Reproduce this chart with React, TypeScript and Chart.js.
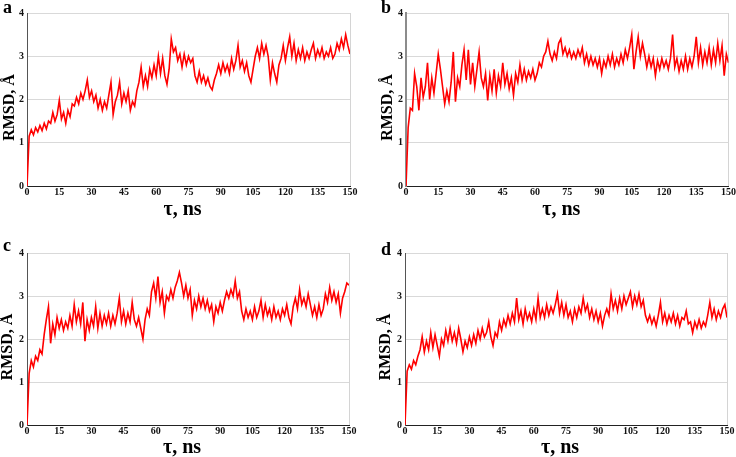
import React, { useEffect, useRef } from "react";
import { Chart, registerables } from "chart.js";

Chart.register(...registerables);

// ---- data (RMSD, Å) sampled every 1 ns, 0..150 ns ----
const TIME_STEP_NS = 1;
const X_MIN = 0;
const X_MAX = 150;
const X_STEP = 15;
const Y_MIN = 0;
const Y_MAX = 4;
const Y_STEP = 1;
const X_TITLE = "τ, ns";
const Y_TITLE = "RMSD, Å";
const PANEL_LETTERS = ["a", "b", "c", "d"];

const RMSD_A = [
  0, 1.15, 1.3, 1.18, 1.35, 1.25, 1.4, 1.28, 1.45, 1.32,
  1.5, 1.45, 1.7, 1.5, 1.65, 1.98, 1.55, 1.7, 1.45, 1.75,
  1.6, 1.9, 1.85, 2.05, 1.9, 2.15, 2.0, 2.2, 2.45, 2.05,
  2.2, 1.95, 2.1, 1.8, 2.0, 1.75, 1.95, 1.8, 2.1, 2.4,
  1.65, 1.95, 2.1, 2.4, 1.9, 2.15, 1.95, 2.2, 1.75, 1.95,
  1.85, 2.2, 2.4, 2.75, 2.3, 2.55, 2.3, 2.7, 2.5, 2.8,
  2.55, 3.0, 2.6, 2.95, 2.55, 2.35, 2.7, 3.4, 3.1, 3.2,
  2.9, 3.05, 2.75, 3.05, 2.8, 3.0, 2.85, 2.95, 2.55, 2.4,
  2.65, 2.4, 2.55, 2.35, 2.5, 2.3, 2.22, 2.45, 2.6, 2.8,
  2.6, 2.85, 2.65, 2.8, 2.6, 2.95, 2.7, 2.9, 3.25, 2.75,
  2.9, 2.65, 2.85, 2.55, 2.4, 2.7, 3.0, 3.2, 2.95, 3.3,
  3.05, 3.25, 3.0, 2.45, 2.85, 2.6, 2.4, 2.8, 2.95, 3.25,
  2.9, 3.2, 3.45, 3.0, 3.3, 2.9, 3.15, 2.95, 3.2, 2.9,
  3.1, 2.95, 3.15, 3.3, 2.95, 3.15, 3.0, 3.2, 2.95, 3.1,
  3.0, 3.2, 2.95, 3.05, 3.3, 3.15, 3.4, 3.2, 3.5, 3.25,
  3.05,
];

const RMSD_B = [
  0, 1.35, 1.8, 1.75, 2.6, 2.3, 1.75, 2.5, 2.05, 2.3,
  2.85, 2.0, 2.5, 2.15, 2.6, 3.05, 2.7, 2.3, 1.9, 2.2,
  1.95, 2.4, 3.1, 1.95, 2.5, 2.3, 2.8, 3.15, 2.45, 3.15,
  2.35, 2.85, 2.3, 2.7, 3.1, 2.5, 2.3, 2.6, 1.98, 2.55,
  2.2, 2.7, 2.15, 2.55, 2.3, 2.85, 2.35, 2.6, 2.25, 2.5,
  2.1, 2.6, 2.4, 2.8, 2.45, 2.7, 2.45, 2.65, 2.5, 2.7,
  2.45, 2.6, 2.85, 2.75, 3.0, 3.1, 3.35, 3.05, 2.9, 3.1,
  2.95, 3.3, 3.4, 3.05, 3.2, 3.0, 3.15, 2.95, 3.1, 2.95,
  3.15, 3.0, 3.2, 2.85, 3.05, 2.8, 3.0, 2.8, 2.95, 2.75,
  2.95, 2.6, 2.9, 2.75, 3.0, 2.8, 3.05, 2.75, 2.95, 2.8,
  3.05, 2.85, 3.15, 2.95, 3.2, 3.5, 2.7, 3.1, 3.45, 3.0,
  3.3, 3.05, 2.75, 3.0, 2.75, 2.95, 2.55, 2.9, 2.7, 2.95,
  2.75, 2.9, 2.7, 2.95, 3.5, 2.75, 2.95, 2.65, 2.9, 2.7,
  3.0, 2.7, 2.95, 2.75, 3.0, 3.45, 2.85, 3.2, 2.8, 3.1,
  2.85, 3.2, 2.8, 3.15, 2.85, 3.3, 2.9, 3.25, 2.55, 3.05,
  2.85,
];

const RMSD_C = [
  0, 1.2, 1.5, 1.35, 1.6, 1.5, 1.75, 1.65, 2.1, 2.45,
  2.75, 1.9, 2.35, 2.1, 2.5, 2.25, 2.45, 2.2, 2.4, 2.25,
  2.55, 2.3, 2.8, 2.4, 2.65, 2.35, 2.85, 1.95, 2.45, 2.2,
  2.5, 2.3, 2.75, 2.25, 2.6, 2.3, 2.55, 2.35, 2.6, 2.3,
  2.55, 2.35, 2.6, 2.95, 2.4, 2.65, 2.35, 2.6, 2.4, 2.85,
  2.45, 2.3, 2.5, 2.25, 2.0, 2.45, 2.7, 2.55, 3.1, 3.3,
  2.95, 3.45, 2.85, 3.1, 2.6, 3.0, 2.9, 3.15, 2.95, 3.2,
  3.35, 3.55, 3.3, 3.0, 3.25, 2.95, 3.15, 2.55, 2.9, 2.7,
  3.0, 2.75, 2.95, 2.7, 2.9, 2.65, 2.8, 2.4, 2.75, 2.6,
  2.85, 2.65, 2.9, 3.1, 2.95, 3.15, 3.0, 3.35, 2.95, 3.1,
  2.65, 2.45, 2.7, 2.5, 2.65, 2.45, 2.75, 2.5, 2.65, 2.9,
  2.5, 2.8, 2.55, 2.7, 2.45, 2.75, 2.5, 2.65, 2.45, 2.7,
  2.55, 2.8, 2.5, 2.35, 2.75, 2.95, 2.7, 3.15, 2.8, 2.95,
  2.75, 3.05, 2.8, 2.55, 2.75, 2.5, 2.8, 2.55, 2.7, 3.05,
  2.85, 3.2, 2.9, 3.1, 2.85, 3.05, 2.6, 2.95, 3.1, 3.3,
  3.25,
];

const RMSD_D = [
  0, 1.25, 1.4, 1.3, 1.5, 1.4, 1.6, 1.75, 2.05, 1.7,
  1.95, 1.75, 2.15, 1.8, 2.1, 1.85, 1.6, 2.0, 1.85, 2.2,
  1.95, 2.25, 1.95, 2.15, 1.9, 2.25, 2.0, 1.7, 1.95, 1.8,
  2.05, 1.85, 2.1, 1.9, 2.2, 2.0, 2.25, 2.05, 2.15, 2.4,
  2.05, 1.85, 2.15, 2.05, 2.4, 2.2, 2.45, 2.3, 2.55, 2.35,
  2.6, 2.4, 2.95, 2.45, 2.65, 2.35, 2.7, 2.45, 2.6, 2.4,
  2.7, 2.45, 2.95, 2.5, 2.7, 2.5, 2.8, 2.55, 2.75, 2.6,
  2.8, 3.05, 2.6, 2.85, 2.55, 2.8, 2.5, 2.65, 2.4, 2.7,
  2.5, 2.75, 2.6, 2.95, 2.65, 2.8, 2.5, 2.7, 2.45, 2.65,
  2.4, 2.6, 2.3, 2.55, 2.7, 2.55, 3.05, 2.7, 2.9, 2.65,
  2.95, 2.7, 3.0, 2.8, 2.95, 3.1, 2.75, 3.0, 2.8, 3.05,
  2.75, 2.9, 2.55, 2.4, 2.55, 2.35, 2.5, 2.3, 2.55, 2.85,
  2.4, 2.6, 2.35, 2.55, 2.4, 2.6, 2.35, 2.55, 2.3, 2.5,
  2.45, 2.65, 2.35, 2.4, 2.15, 2.4, 2.25, 2.45, 2.25, 2.4,
  2.3, 2.55, 2.85, 2.5, 2.7, 2.45, 2.65, 2.5, 2.7, 2.8,
  2.5,
];

const SERIES = [RMSD_A, RMSD_B, RMSD_C, RMSD_D];

// ---- layout / style ----
const SERIF = "'Times New Roman', 'Liberation Serif', 'DejaVu Serif', serif";

type PanelLayout = {
  left: number;
  top: number;
  width: number;
  height: number;
  padRight: number;
  padTop: number;
  yAxisW: number;
  xAxisH: number;
  letterX: number;
  letterY: number;
  yTitleX: number;
  xTitleBaseline: number;
  yAxisColor: string;
  yAxisWidth: number;
};

const LAYOUTS: PanelLayout[] = [
  { left: 0, top: 0, width: 368, height: 228, padRight: 18, padTop: 13, yAxisW: 27, xAxisH: 42, letterX: 3, letterY: 13, yTitleX: 10, xTitleBaseline: 215, yAxisColor: "#555", yAxisWidth: 1 },
  { left: 368, top: 0, width: 368, height: 228, padRight: 7, padTop: 13, yAxisW: 38, xAxisH: 42, letterX: 13, letterY: 13, yTitleX: 20, xTitleBaseline: 215, yAxisColor: "#8c8c8c", yAxisWidth: 2 },
  { left: 0, top: 228, width: 368, height: 229, padRight: 19, padTop: 25, yAxisW: 27, xAxisH: 32, letterX: 3, letterY: 23, yTitleX: 8, xTitleBaseline: 225, yAxisColor: "#555", yAxisWidth: 1 },
  { left: 368, top: 228, width: 368, height: 229, padRight: 9, padTop: 25, yAxisW: 37, xAxisH: 32, letterX: 13, letterY: 27, yTitleX: 18, xTitleBaseline: 225, yAxisColor: "#555", yAxisWidth: 1 },
];

const panelTextPlugin = {
  id: "panelText",
  afterDraw(chart: any, _args: any, opts: any) {
    const { ctx, chartArea } = chart;
    ctx.save();
    ctx.fillStyle = "#000";
    ctx.font = `bold 18px ${SERIF}`;
    ctx.textAlign = "left";
    ctx.textBaseline = "alphabetic";
    ctx.fillText(opts.letter, opts.letterX, opts.letterY);

    ctx.font = `bold 20px ${SERIF}`;
    ctx.textAlign = "center";
    ctx.fillText(X_TITLE, (chartArea.left + chartArea.right) / 2 - 6, opts.xTitleBaseline);

    ctx.translate(opts.yTitleX, (chartArea.top + chartArea.bottom) / 2 + 8);
    ctx.rotate(-Math.PI / 2);
    ctx.font = `bold 16px ${SERIF}`;
    ctx.textBaseline = "middle";
    ctx.fillText(Y_TITLE, 0, 0);
    ctx.restore();
  },
};

function Panel({ index }: { index: number }) {
  const ref = useRef<HTMLCanvasElement | null>(null);
  const L = LAYOUTS[index];
  useEffect(() => {
    if (!ref.current) return;
    const values = SERIES[index];
    const chart = new Chart(ref.current, {
      type: "line",
      data: {
        datasets: [
          {
            data: values.map((v, i) => ({ x: i * TIME_STEP_NS, y: v })),
            borderColor: "#ff0000",
            borderWidth: 1.6,
            pointRadius: 0,
            fill: false,
            tension: 0,
          },
        ],
      },
      options: {
        responsive: false,
        animation: false,
        devicePixelRatio: 1,
        layout: { padding: { left: 0, right: L.padRight, top: L.padTop, bottom: 0 } },
        plugins: {
          legend: { display: false },
          tooltip: { enabled: false },
          panelText: {
            letter: PANEL_LETTERS[index],
            letterX: L.letterX,
            letterY: L.letterY,
            yTitleX: L.yTitleX,
            xTitleBaseline: L.xTitleBaseline,
          },
        } as any,
        scales: {
          x: {
            type: "linear",
            min: X_MIN,
            max: X_MAX,
            afterFit: (s: any) => {
              s.height = L.xAxisH;
            },
            ticks: {
              stepSize: X_STEP,
              autoSkip: false,
              maxRotation: 0,
              padding: 0,
              color: "#111",
              font: { family: SERIF, size: 10, weight: "bold" },
            },
            grid: {
              drawTicks: false,
              color: (c: any) => (c.tick && c.tick.value === X_MAX ? "#d4d4d4" : "rgba(0,0,0,0)"),
              lineWidth: 1,
            },
            border: { color: "#222", width: 1 },
          },
          y: {
            type: "linear",
            min: Y_MIN,
            max: Y_MAX,
            afterFit: (s: any) => {
              s.width = L.yAxisW;
            },
            ticks: {
              stepSize: Y_STEP,
              padding: 3,
              color: "#111",
              font: { family: SERIF, size: 10, weight: "bold" },
            },
            grid: { drawTicks: false, color: "#d9d9d9", lineWidth: 1 },
            border: { color: L.yAxisColor, width: L.yAxisWidth },
          },
        },
      } as any,
      plugins: [panelTextPlugin],
    });
    return () => chart.destroy();
  }, [index]);

  return (
    <canvas
      ref={ref}
      width={L.width}
      height={L.height}
      style={{ position: "absolute", left: L.left, top: L.top, width: L.width, height: L.height, display: "block" }}
    />
  );
}

export default function App() {
  return (
    <div style={{ position: "fixed", left: 0, top: 0, width: 736, height: 457, background: "#fff", overflow: "hidden" }}>
      {[0, 1, 2, 3].map((i) => (
        <Panel key={i} index={i} />
      ))}
    </div>
  );
}
